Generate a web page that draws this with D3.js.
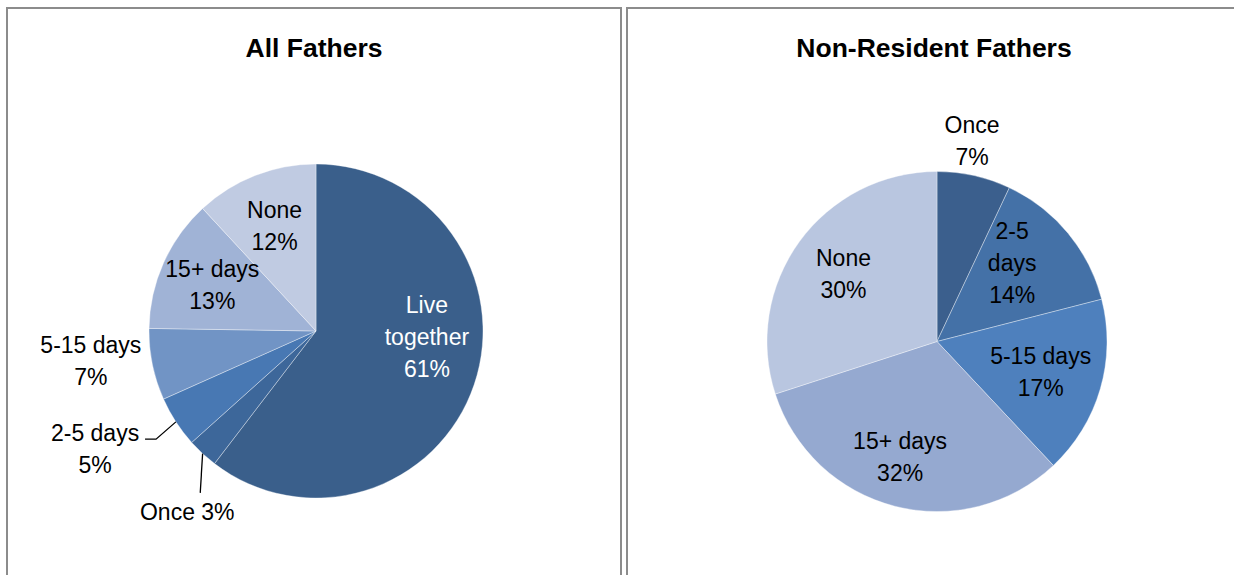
<!DOCTYPE html>
<html>
<head>
<meta charset="utf-8">
<script src="https://cdn.jsdelivr.net/npm/d3@7"></script>
<style>
  body { margin: 0; background: #fff; }
  svg { display: block; font-family: "Liberation Sans", Arial, sans-serif; }
</style>
</head>
<body>
<svg id="chart" width="1234" height="575"></svg>
<script>
// data
var allCategories = ['Live together', 'Once', '2-5 days', '5-15 days', '15+ days', 'None'];
var allValues = [61, 3, 5, 7, 13, 12];
var allColors = ['#3a5f8b', '#3d679a', '#4878b3', '#7194c5', '#a0b3d6', '#c0cbe2'];

var nrCategories = ['Once', '2-5 days', '5-15 days', '15+ days', 'None'];
var nrValues = [7, 14, 17, 32, 30];
var nrColors = ['#3b5f8d', '#4471a7', '#4e80bd', '#95a9d0', '#b9c6e0'];

// label text lines (Excel wraps some of them)
var allLabelLines = {
  'Live together': ['Live', 'together', '61%'],
  'Once': ['Once 3%'],
  '2-5 days': ['2-5 days', '5%'],
  '5-15 days': ['5-15 days', '7%'],
  '15+ days': ['15+ days', '13%'],
  'None': ['None', '12%']
};
var nrLabelLines = {
  'Once': ['Once', '7%'],
  '2-5 days': ['2-5', 'days', '14%'],
  '5-15 days': ['5-15 days', '17%'],
  '15+ days': ['15+ days', '32%'],
  'None': ['None', '30%']
};

var svg = d3.select('#chart');
var lineH = 32;

// panel frames
svg.append('rect').attr('x', 7).attr('y', 8).attr('width', 614).attr('height', 620)
  .attr('fill', 'none').attr('stroke', '#8c8c8c').attr('stroke-width', 2);
svg.append('rect').attr('x', 627).attr('y', 8).attr('width', 640).attr('height', 620)
  .attr('fill', 'none').attr('stroke', '#8c8c8c').attr('stroke-width', 2);

function drawPie(opts) {
  var g = svg.append('g').attr('transform', 'translate(' + opts.cx + ',' + opts.cy + ')');

  svg.append('text')
    .attr('x', opts.titleX).attr('y', 57)
    .attr('text-anchor', 'middle')
    .style('font-size', '26.5px').style('font-weight', 'bold')
    .text(opts.title);

  var pie = d3.pie().sort(null).value(function (d, i) { return opts.values[i]; });
  var arcs = pie(opts.categories);
  var arc = d3.arc().innerRadius(0).outerRadius(opts.r);

  g.selectAll('path.slice')
    .data(arcs)
    .enter()
    .append('path')
    .attr('class', 'slice')
    .attr('d', arc)
    .attr('fill', function (d, i) { return opts.colors[i]; })
    .attr('stroke', 'rgba(255,255,255,0.45)')
    .attr('stroke-width', 0.8);

  arcs.forEach(function (d) {
    var name = d.data;
    var place = opts.place[name] || {};
    var k = place.k || 0.68;
    var mid = (d.startAngle + d.endAngle) / 2 + (place.rot || 0) * Math.PI / 180;
    var lx = Math.sin(mid) * opts.r * k + (place.dx || 0);
    var ly = -Math.cos(mid) * opts.r * k + (place.dy || 0);
    var lines = opts.lines[name];

    var t = g.append('text')
      .attr('text-anchor', 'middle')
      .style('font-size', '23px')
      .attr('fill', place.white ? '#fff' : '#000');
    lines.forEach(function (s, j) {
      t.append('tspan')
        .attr('x', lx)
        .attr('y', ly + (j - (lines.length - 1) / 2) * lineH)
        .attr('dy', '0.36em')
        .text(s);
    });

    if (place.leader) {
      var ax = Math.sin((d.startAngle + d.endAngle) / 2) * opts.r;
      var ay = -Math.cos((d.startAngle + d.endAngle) / 2) * opts.r;
      var pts = [[ax, ay]].concat(place.leader.map(function (p) { return [lx + p[0], ly + p[1]]; }));
      g.append('path')
        .attr('d', d3.line()(pts))
        .attr('fill', 'none')
        .attr('stroke', '#000')
        .attr('stroke-width', 1.3);
    }
  });
}

drawPie({
  title: 'All Fathers', titleX: 314,
  cx: 316, cy: 331, r: 167,
  categories: allCategories, values: allValues, colors: allColors, lines: allLabelLines,
  place: {
    'Live together': { k: 0.665, rot: -16, white: true },
    '5-15 days': { k: 1.36, rot: 4 },
    '2-5 days': { k: 1.52, rot: 0, dx: -8, dy: -20.5, leader: [[61, -9.5], [50, -9.5]] },
    'Once': { k: 1.1, rot: 0, dx: -4, dy: 46, leader: [[13, -19]] }
  }
});

drawPie({
  title: 'Non-Resident Fathers', titleX: 934,
  cx: 937, cy: 341.5, r: 170,
  categories: nrCategories, values: nrValues, colors: nrColors, lines: nrLabelLines,
  place: {
    'Once': { k: 1.2, rot: -2.7 },
    '2-5 days': { k: 0.64, rot: -6.7 },
    '5-15 days': { k: 0.635 },
    '15+ days': { k: 0.71, rot: 3.4 }
  }
});
</script>
</body>
</html>
